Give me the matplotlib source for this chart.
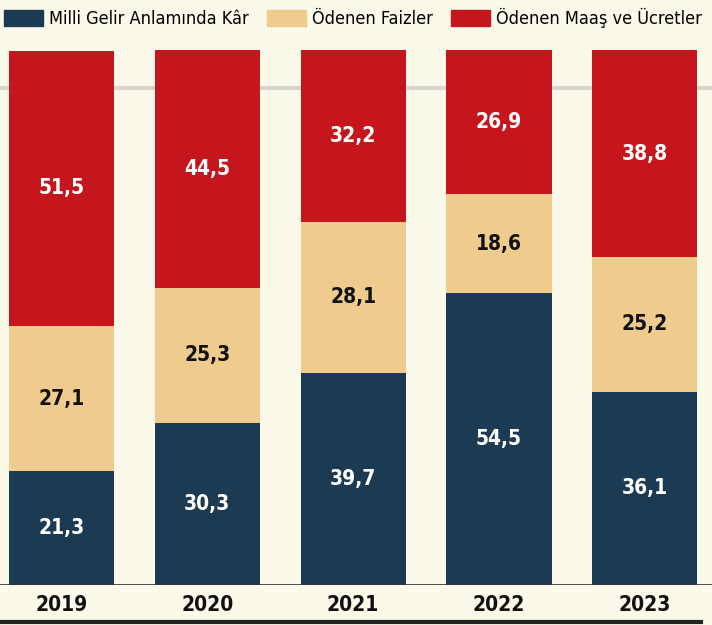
import matplotlib.pyplot as plt
from matplotlib.patches import Patch
from matplotlib.lines import Line2D

years = ['2019', '2020', '2021', '2022', '2023']
kar = [21.3, 30.3, 39.7, 54.5, 36.1]
faiz = [27.1, 25.3, 28.1, 18.6, 25.2]
maas = [51.5, 44.5, 32.2, 26.9, 38.8]

navy = '#1c3a52'
tan = '#efcb8e'
red = '#c4161c'
bg = '#fbf9e9'

plt.rcParams['font.family'] = ['DejaVu Sans']
plt.rcParams['font.stretch'] = 'condensed'

fig = plt.figure(figsize=(7.12, 6.25), dpi=100, facecolor=bg)
ax = fig.add_axes([0, 40 / 625, 1, 535 / 625])
ax.set_facecolor(bg)

x = range(len(years))
w = 0.72
ax.axhline(92.9, color='#d8d6cc', lw=3, zorder=0)
ax.bar(x, kar, w, color=navy, zorder=2)
ax.bar(x, faiz, w, bottom=kar, color=tan, zorder=2)
bot2 = [a + b for a, b in zip(kar, faiz)]
ax.bar(x, maas, w, bottom=bot2, color=red, zorder=2)
ax.axhline(0, color='#333333', lw=1.2, zorder=3)

for i in x:
    ax.text(i, kar[i] / 2, f'{kar[i]:.1f}'.replace('.', ','), ha='center', va='center',
            color='white', fontsize=15, fontweight='bold', zorder=4)
    ax.text(i, kar[i] + faiz[i] / 2, f'{faiz[i]:.1f}'.replace('.', ','), ha='center', va='center',
            color='#111111', fontsize=15, fontweight='bold', zorder=4)
    ax.text(i, bot2[i] + (100 - bot2[i]) / 2, f'{maas[i]:.1f}'.replace('.', ','), ha='center',
            va='center', color='white', fontsize=15, fontweight='bold', zorder=4)
    ax.text(i, -3.8, years[i], ha='center', va='center', color='#111111', fontsize=15,
            fontweight='bold', clip_on=False)

ax.set_xlim(-0.42, 4.46)
ax.set_ylim(0, 100)
ax.axis('off')

handles = [Patch(color=navy), Patch(color=tan), Patch(color=red)]
labels = ['Milli Gelir Anlamında Kâr', 'Ödenen Faizler', 'Ödenen Maaş ve Ücretler']
fig.legend(handles, labels, loc='upper left', bbox_to_anchor=(0.0, 0.993), ncol=3, frameon=False,
           fontsize=13, handlelength=2.2, handleheight=1.0, handletextpad=0.3, columnspacing=1.0,
           borderaxespad=0.1, borderpad=0.1)

fig.add_artist(Line2D([0, 0.985], [3 / 625, 3 / 625], color='#222222', lw=3))

fig.savefig('out.png', dpi=100, facecolor=bg)
